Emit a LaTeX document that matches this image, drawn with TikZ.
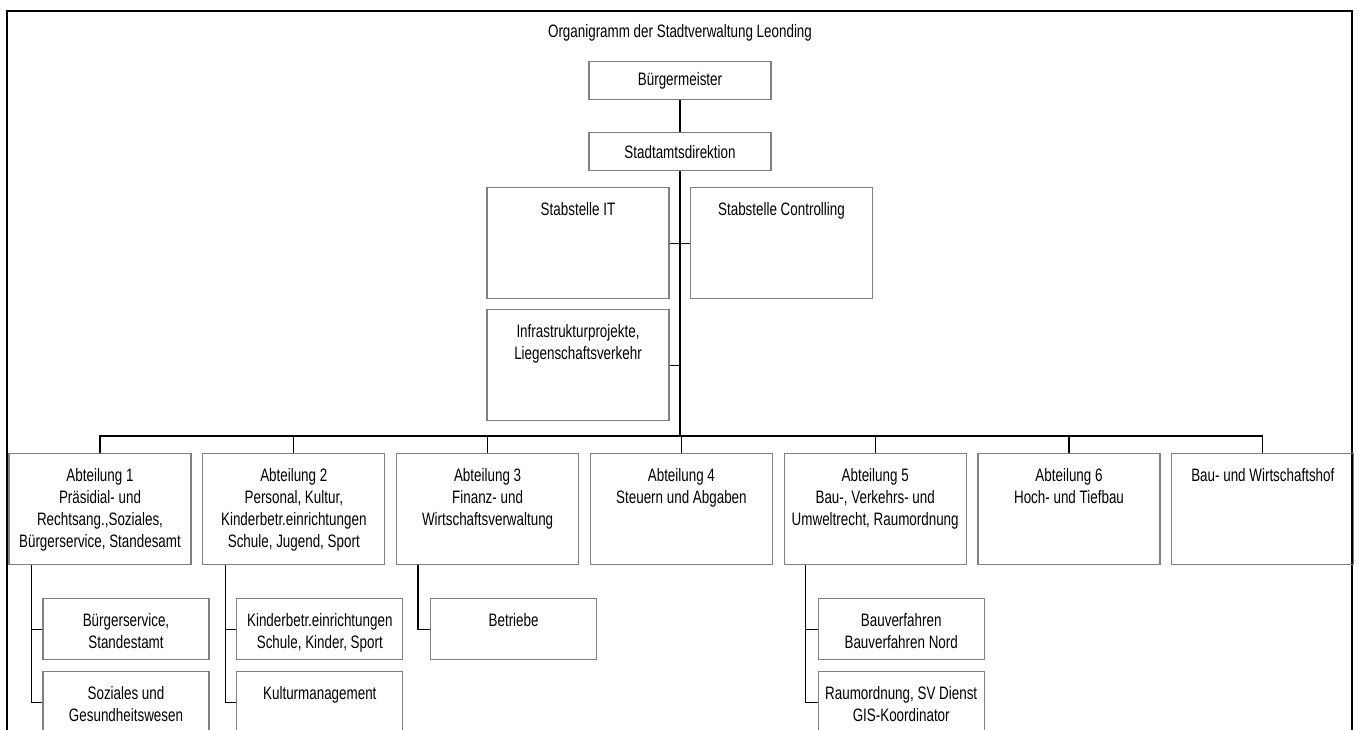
\documentclass[tikz,border=0pt]{standalone}
\usepackage{fontspec}
\setmainfont{Liberation Sans}[FakeStretch=0.745]
\definecolor{boxgray}{gray}{0.5}

\begin{document}
\begin{tikzpicture}[x=1pt,y=-1pt,
    font=\fontsize{18}{22}\selectfont,
    box/.style={draw=boxgray,line width=1.2pt,rectangle,anchor=north,minimum width=182pt,inner sep=0pt},
    head/.style={box,minimum height=38pt},
    stab/.style={box,minimum height=111pt},
    abt/.style={box,minimum height=111pt},
    sub/.style={box,anchor=north west,minimum width=166pt,minimum height=61pt},
    lbl/.style={anchor=north,align=center,inner sep=0pt,yshift=-15pt},
    line/.style={line width=1.1pt}]
    \useasboundingbox (0,0) rectangle (1359,729);
    \clip (0,0) rectangle (1359,729);
    \draw[line width=2pt] (7,11) rectangle (1352,760);
    \node (title) at (680,33) {Organigramm der Stadtverwaltung Leonding};
    % Leitung
    \node[head] (bm) at (680,61) {Bürgermeister};
    \node[head] (sad) at (680,132) {Stadtamtsdirektion};
    \draw[line] (bm.south)--(sad.south |- sad.north);
    % Stabstellen
    \node[stab,label={[lbl]north:Stabstelle IT}] (it) at (578,187) {};
    \node[stab,label={[lbl]north:Stabstelle Controlling}] (ctrl) at (781.5,187) {};
    \node[stab,label={[lbl]north:Infrastrukturprojekte,\\Liegenschaftsverkehr}] (infra) at (578,309) {};
    \coordinate (bus) at (680,436);
    \draw[line] (sad.south)--(bus);
    \draw[line] (it.east)--(ctrl.west);
    \draw[line] (infra.east)--(infra.east -| bus);
    % Abteilungen
    \node[abt,label={[lbl]north:Abteilung 1\\Präsidial- und\\Rechtsang.,Soziales,\\Bürgerservice, Standesamt}] (a1) at (100,453) {};
    \node[abt,label={[lbl]north:Abteilung 2\\Personal, Kultur,\\Kinderbetr.einrichtungen\\Schule, Jugend, Sport}] (a2) at (293.8,453) {};
    \node[abt,label={[lbl]north:Abteilung 3\\Finanz- und\\Wirtschaftsverwaltung}] (a3) at (487.6,453) {};
    \node[abt,label={[lbl]north:Abteilung 4\\Steuern und Abgaben}] (a4) at (681.4,453) {};
    \node[abt,label={[lbl]north:Abteilung 5\\Bau-, Verkehrs- und\\Umweltrecht, Raumordnung}] (a5) at (875.2,453) {};
    \node[abt,label={[lbl]north:Abteilung 6\\Hoch- und Tiefbau}] (a6) at (1069,453) {};
    \node[abt,label={[lbl]north:Bau- und Wirtschaftshof}] (a7) at (1262.8,453) {};
    \draw[line] (a1.north)|-(bus)-|(a7.north);
    \foreach \i in {2,...,6}
        \draw[line] (a\i.north)--(a\i.north |- bus);
    % Unterabteilungen
    \node[sub,label={[lbl]north:Bürgerservice,\\Standestamt}] (s11) at ([xshift=34pt]a1.south west |- 0,598) {};
    \node[sub,label={[lbl]north:Soziales und\\Gesundheitswesen}] (s12) at ([xshift=34pt]a1.south west |- 0,671) {};
    \node[sub,label={[lbl]north:Kinderbetr.einrichtungen\\Schule, Kinder, Sport}] (s21) at ([xshift=34pt]a2.south west |- 0,598) {};
    \node[sub,label={[lbl]north:Kulturmanagement}] (s22) at ([xshift=34pt]a2.south west |- 0,671) {};
    \node[sub,label={[lbl]north:Betriebe}] (s31) at ([xshift=34pt]a3.south west |- 0,598) {};
    \node[sub,label={[lbl]north:Bauverfahren\\Bauverfahren Nord}] (s51) at ([xshift=34pt]a5.south west |- 0,598) {};
    \node[sub,label={[lbl]north:Raumordnung, SV Dienst\\GIS-Koordinator}] (s52) at ([xshift=34pt]a5.south west |- 0,671) {};
    \coordinate (sp1) at ([xshift=23pt]a1.south west);
    \coordinate (sp2) at ([xshift=23pt]a2.south west);
    \coordinate (sp3) at ([xshift=22pt]a3.south west);
    \coordinate (sp5) at ([xshift=22pt]a5.south west);
    \draw[line] (sp1)|-(s11.west) (sp1)|-(s12.west);
    \draw[line] (sp2)|-(s21.west) (sp2)|-(s22.west);
    \draw[line] (sp3)|-(s31.west);
    \draw[line] (sp5)|-(s51.west) (sp5)|-(s52.west);
\end{tikzpicture}
\end{document}
